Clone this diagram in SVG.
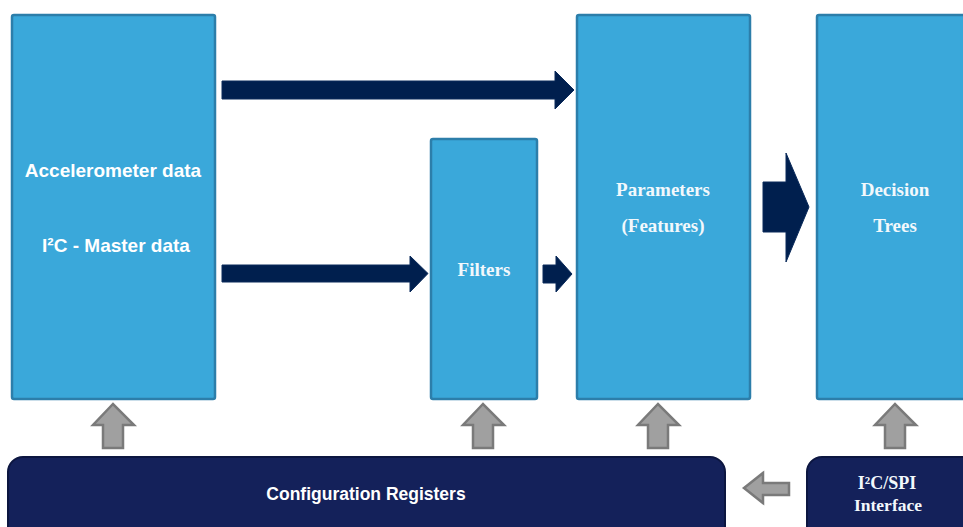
<svg xmlns="http://www.w3.org/2000/svg" width="963" height="527" viewBox="0 0 963 527">
<style>
.blk{fill:#3AA8DA;stroke:#2C7EAA;stroke-width:2.5}
.nav{fill:#14215A;stroke:#0C1640;stroke-width:2}
.arr{fill:#001F4E;stroke:#0A2A5A;stroke-width:1}
.gry{fill:#A0A0A0;stroke:#7A7A7A;stroke-width:2.5}
.sans{font-family:"Liberation Sans",Arial,sans-serif;font-weight:bold;fill:#FFFFFF;text-anchor:middle}
.serif{font-family:"Liberation Serif","Times New Roman",serif;font-weight:bold;fill:#F2F8FC;text-anchor:middle}
</style>
<rect width="963" height="527" fill="#FFFFFF"/>
<g id="accel">
<rect class="blk" x="12" y="15" width="203" height="384" rx="2"/>
<text class="sans" x="113" y="177" font-size="19">Accelerometer data</text>
<text class="sans" x="116" y="252" font-size="19">I²C - Master data</text>
</g>
<g id="filters">
<rect class="blk" x="431" y="139" width="106" height="260" rx="2"/>
<text class="serif" x="484" y="276" font-size="19">Filters</text>
</g>
<g id="params">
<rect class="blk" x="577" y="15" width="173" height="384" rx="2"/>
<text class="serif" x="663" y="196" font-size="19">Parameters</text>
<text class="serif" x="663" y="232" font-size="19">(Features)</text>
</g>
<g id="trees">
<rect class="blk" x="817" y="15" width="160" height="384" rx="2"/>
<text class="serif" x="895" y="196" font-size="19">Decision</text>
<text class="serif" x="895" y="232" font-size="19">Trees</text>
</g>
<g id="config">
<rect class="nav" x="8" y="457" width="717" height="90" rx="15"/>
<text class="sans" x="366" y="500" font-size="17.5">Configuration Registers</text>
</g>
<g id="iface">
<rect class="nav" x="807" y="457" width="180" height="90" rx="15"/>
<text class="serif" x="887" y="489" font-size="18">I²C/SPI</text>
<text class="serif" x="888" y="511" font-size="17.5">Interface</text>
</g>
<g id="connectors">
<polygon class="arr" points="222,81 555,81 555,71 574,90 555,109 555,99 222,99"/>
<polygon class="arr" points="222,265 410,265 410,256 428,273.5 410,292 410,282 222,282"/>
<polygon class="arr" points="543,265 556,265 556,256 572,274 556,292 556,283 543,283"/>
<polygon class="arr" points="763,182 786,182 786,153 809,207 786,262 786,232 763,232"/>
<polygon class="gry" points="103,448 103,425 93,425 113,404 134,425 123,425 123,448"/>
<polygon class="gry" points="473,448 473,425 463,425 483,404 504,425 493,425 493,448"/>
<polygon class="gry" points="648,448 648,425 638,425 658,404 679,425 668,425 668,448"/>
<polygon class="gry" points="885,448 885,425 875,425 895,404 916,425 905,425 905,448"/>
<polygon class="gry" points="789,483 763,483 763,473 744,488 763,503 763,495 789,495"/>
</g>
</svg>
